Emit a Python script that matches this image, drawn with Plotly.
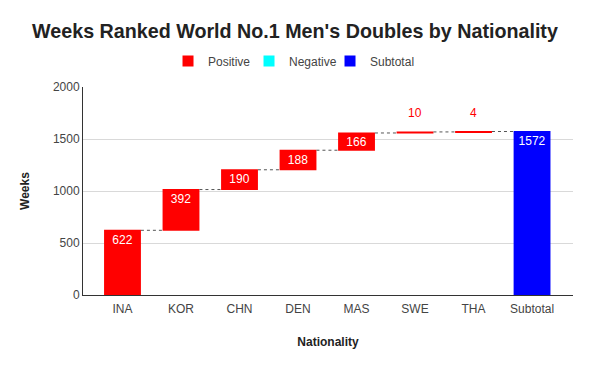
import plotly.graph_objects as go

categories = ["INA", "KOR", "CHN", "DEN", "MAS", "SWE", "THA", "Subtotal"]
values = [622, 392, 190, 188, 166, 10, 4, 1572]
measures = ["relative"] * 7 + ["total"]
label_pos = ["inside", "inside", "inside", "inside", "inside", "none", "none", "inside"]
legend_names = ["Positive", "Negative", "Subtotal"]
legend_colors = ["#ff0000", "#00ffff", "#0000ff"]

FONT = "Liberation Sans, Arial, sans-serif"

fig = go.Figure()
fig.add_trace(go.Waterfall(
    x=categories,
    y=values,
    measure=measures,
    text=[str(v) for v in values],
    textposition=label_pos,
    insidetextanchor="end",
    insidetextfont=dict(color="white", size=12, family=FONT),
    constraintext="none",
    increasing=dict(marker=dict(color="#ff0000")),
    decreasing=dict(marker=dict(color="#00ffff")),
    totals=dict(marker=dict(color="#0000ff")),
    connector=dict(mode="between", line=dict(color="#555555", width=1, dash="dot")),
    width=0.63,
    showlegend=False,
    hoverinfo="x+y",
))

for name, color in zip(legend_names, legend_colors):
    fig.add_trace(go.Scatter(
        x=[None], y=[None], mode="markers", name=name,
        marker=dict(symbol="square", size=11, color=color),
    ))
# invisible spacer entry so the last legend label is not clipped
fig.add_trace(go.Scatter(x=[None], y=[None], mode="markers", name=" ",
                         marker=dict(symbol="square", size=1, color="rgba(0,0,0,0)"),
                         hoverinfo="skip"))

running = 0
for c, v, m, p in zip(categories, values, measures, label_pos):
    top = running + v if m == "relative" else v
    if m == "relative":
        running += v
    if p == "none":
        fig.add_annotation(x=c, y=top, yshift=19, text=str(v), showarrow=False,
                           font=dict(color="#ff0000", size=12, family=FONT))

fig.update_layout(
    width=590, height=365,
    margin=dict(l=83, r=17, t=87, b=70, autoexpand=False),
    paper_bgcolor="white", plot_bgcolor="white",
    font=dict(family=FONT, color="#444444", size=12),
    title=dict(text="<b>Weeks Ranked World No.1 Men's Doubles by Nationality</b>",
               x=0.5, xanchor="center", y=0.915, yanchor="middle",
               font=dict(size=19.7, color="#222222", family=FONT)),
    legend=dict(orientation="h", x=0.1735, xanchor="left", y=1.125, yanchor="middle",
                font=dict(size=12, color="#444444", family=FONT),
                itemwidth=30, entrywidth=36, tracegroupgap=0, itemclick=False,
                itemdoubleclick=False),
    xaxis=dict(title=dict(text="<b>Nationality</b>", font=dict(size=12, color="#222222"), standoff=22),
               range=[-0.675, 7.7], showline=True, linecolor="#333333", linewidth=1,
               ticks="", ticklabelstandoff=3, showgrid=False,
               tickfont=dict(size=12, color="#444444")),
    yaxis=dict(title=dict(text="<b>Weeks</b>", font=dict(size=12, color="#222222"), standoff=20),
               range=[0, 2000], dtick=500, showgrid=True, gridcolor="#d9d9d9",
               showline=True, linecolor="#333333", linewidth=1, zeroline=False,
               tickfont=dict(size=12, color="#444444"), ticks=""),
)

fig.write_html("out.html", config={"displayModeBar": False},
               post_script="document.body.style.margin='0';")
